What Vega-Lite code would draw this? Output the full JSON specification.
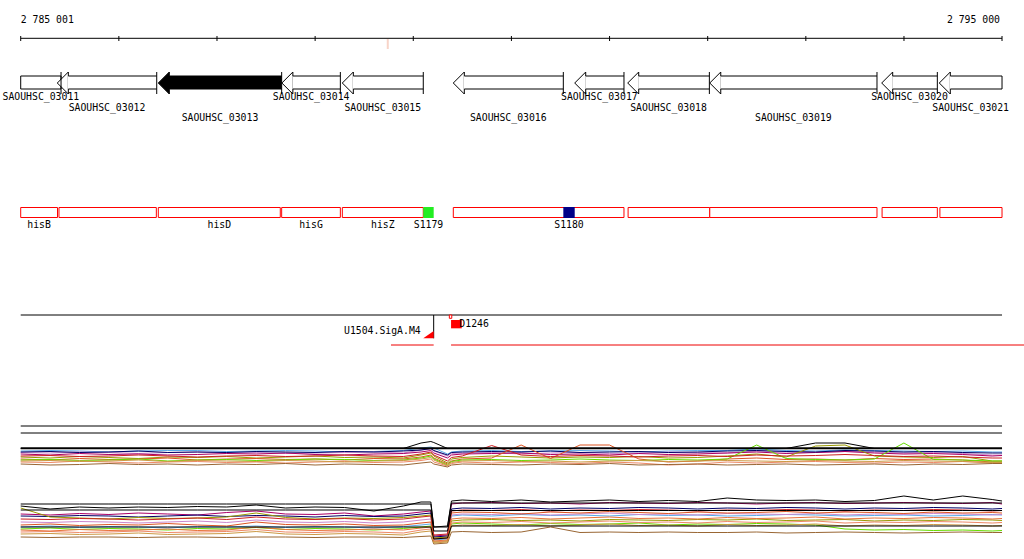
{
"$schema":"https://vega.github.io/schema/vega-lite/v6.json",
"padding":0,"spacing":0,"background":"white",
"config":{"view":{"stroke":null},"axis":{"disable":true},"legend":{"disable":true},"text":{"font":"DejaVu Sans Mono","fontSize":9.8,"color":"black"}},
"resolve":{"scale":{"x":"independent","y":"independent"}},
"datasets":{
"ticks":[{"pos":2785001},{"pos":2786001},{"pos":2787001},{"pos":2788001},{"pos":2789001},{"pos":2790001},{"pos":2791001},{"pos":2792001},{"pos":2793001},{"pos":2794001},{"pos":2795000}],
"genes":[
{"name":"SAOUHSC_03011","start":2785001,"end":2785412,"lane":1,"partial":"left"},
{"name":"SAOUHSC_03012","start":2785374,"end":2786387,"lane":2,"partial":"none"},
{"name":"SAOUHSC_03013","start":2786403,"end":2787660,"lane":3,"partial":"none"},
{"name":"SAOUHSC_03014","start":2787662,"end":2788258,"lane":1,"partial":"none"},
{"name":"SAOUHSC_03015","start":2788278,"end":2789103,"lane":2,"partial":"none"},
{"name":"SAOUHSC_03016","start":2789409,"end":2790530,"lane":3,"partial":"none"},
{"name":"SAOUHSC_03017","start":2790646,"end":2791148,"lane":1,"partial":"none"},
{"name":"SAOUHSC_03018","start":2791186,"end":2792018,"lane":2,"partial":"none"},
{"name":"SAOUHSC_03019","start":2792022,"end":2793726,"lane":3,"partial":"none"},
{"name":"SAOUHSC_03020","start":2793774,"end":2794341,"lane":1,"partial":"none"},
{"name":"SAOUHSC_03021","start":2794361,"end":2795000,"lane":2,"partial":"right"}],
"features":[
{"name":"hisB","start":2785001,"end":2785376,"kind":"gene"},
{"name":"","start":2785391,"end":2786383,"kind":"gene"},
{"name":"hisD","start":2786403,"end":2787646,"kind":"gene"},
{"name":"hisG","start":2787660,"end":2788258,"kind":"gene"},
{"name":"hisZ","start":2788278,"end":2789103,"kind":"gene"},
{"name":"S1179","start":2789103,"end":2789209,"kind":"sRNA+"},
{"name":"","start":2789409,"end":2791148,"kind":"gene"},
{"name":"S1180","start":2790530,"end":2790646,"kind":"sRNA-"},
{"name":"","start":2791190,"end":2792022,"kind":"gene"},
{"name":"","start":2792022,"end":2793726,"kind":"gene"},
{"name":"","start":2793778,"end":2794341,"kind":"gene"},
{"name":"","start":2794367,"end":2795000,"kind":"gene"}],
"promoters":[{"name":"U1504.SigA.M4","pos":2789209,"strand":"-"},{"name":"D1246","pos":2789386,"strand":"+"}],
"transcripts":[{"start":2788774,"end":2789209},{"start":2789386,"end":2795224}],
"expr1":[
{"p":2785001,"A":5.8,"B":5.5,"C":5.2,"D":5.6,"E":4.6,"F":4.2,"G":4.0,"H":3.6,"I":3.2,"J":4.8,"K":3.8,"BK":6.3},
{"p":2785300,"A":5.9,"B":5.4,"C":5.0,"D":5.7,"E":4.4,"F":4.0,"G":4.1,"H":3.5,"I":3.0,"J":4.9,"K":3.9,"BK":6.3},
{"p":2785600,"A":5.8,"B":5.6,"C":5.3,"D":5.5,"E":4.7,"F":4.3,"G":3.9,"H":3.8,"I":3.1,"J":4.7,"K":3.7,"BK":6.3},
{"p":2785900,"A":5.6,"B":5.5,"C":5.1,"D":5.6,"E":4.5,"F":4.1,"G":4.0,"H":3.6,"I":3.3,"J":4.8,"K":3.8,"BK":6.3},
{"p":2786200,"A":5.8,"B":5.3,"C":5.2,"D":5.8,"E":4.3,"F":4.2,"G":4.2,"H":3.4,"I":3.1,"J":5.0,"K":4.0,"BK":6.3},
{"p":2786500,"A":5.9,"B":5.5,"C":5.0,"D":5.5,"E":4.6,"F":4.4,"G":3.8,"H":3.6,"I":3.2,"J":4.8,"K":3.7,"BK":6.3},
{"p":2786800,"A":5.9,"B":5.6,"C":5.1,"D":5.6,"E":4.5,"F":4.0,"G":4.0,"H":3.7,"I":3.0,"J":4.6,"K":3.9,"BK":6.3},
{"p":2787100,"A":5.7,"B":5.4,"C":5.3,"D":5.5,"E":4.7,"F":4.2,"G":4.1,"H":3.5,"I":3.2,"J":4.8,"K":3.8,"BK":6.3},
{"p":2787400,"A":5.8,"B":5.5,"C":5.2,"D":5.7,"E":4.4,"F":4.3,"G":3.9,"H":3.6,"I":3.1,"J":4.9,"K":3.7,"BK":6.3},
{"p":2787700,"A":5.9,"B":5.3,"C":5.4,"D":5.6,"E":4.6,"F":4.1,"G":4.0,"H":3.4,"I":3.3,"J":4.7,"K":3.9,"BK":6.3},
{"p":2788000,"A":5.8,"B":5.4,"C":5.1,"D":5.5,"E":4.8,"F":4.2,"G":4.2,"H":3.6,"I":3.0,"J":4.8,"K":3.8,"BK":6.3},
{"p":2788300,"A":5.6,"B":5.5,"C":5.0,"D":5.7,"E":4.5,"F":4.0,"G":4.1,"H":3.7,"I":3.2,"J":5.0,"K":3.6,"BK":6.3},
{"p":2788600,"A":5.7,"B":5.6,"C":5.2,"D":5.6,"E":4.6,"F":4.3,"G":3.9,"H":3.5,"I":3.1,"J":4.8,"K":3.8,"BK":6.3},
{"p":2788900,"A":5.9,"B":5.4,"C":5.3,"D":5.8,"E":4.4,"F":4.2,"G":4.0,"H":3.6,"I":3.0,"J":4.7,"K":3.9,"BK":6.3},
{"p":2789080,"A":6.4,"B":6.0,"C":5.6,"D":6.0,"E":5.0,"F":4.6,"G":4.4,"H":3.9,"I":3.4,"J":5.2,"K":4.2,"BK":7.4},
{"p":2789180,"A":6.6,"B":6.2,"C":5.9,"D":6.3,"E":5.4,"F":5.0,"G":4.8,"H":4.2,"I":3.6,"J":5.6,"K":4.5,"BK":7.7},
{"p":2789210,"A":6.4,"B":5.8,"C":5.4,"D":5.9,"E":4.8,"F":4.4,"G":4.2,"H":3.6,"I":3.2,"J":5.0,"K":4.0,"BK":7.5},
{"p":2789350,"A":5.2,"B":4.8,"C":4.4,"D":5.0,"E":3.4,"F":3.2,"G":3.0,"H":2.8,"I":2.6,"J":3.8,"K":2.9,"BK":6.3},
{"p":2789390,"A":5.6,"B":5.3,"C":5.0,"D":5.5,"E":4.2,"F":3.8,"G":3.7,"H":3.3,"I":3.0,"J":4.5,"K":3.5,"BK":6.3},
{"p":2789500,"A":5.8,"B":5.4,"C":5.2,"D":5.6,"E":4.5,"F":4.2,"G":4.0,"H":3.6,"I":3.2,"J":4.8,"K":3.8,"BK":6.3},
{"p":2789800,"A":5.9,"B":5.5,"C":5.3,"D":5.7,"E":4.8,"F":4.4,"G":4.1,"H":3.4,"I":3.1,"J":6.9,"K":3.9,"BK":6.3},
{"p":2790100,"A":5.7,"B":5.2,"C":5.4,"D":5.6,"E":4.6,"F":7.0,"G":3.9,"H":3.6,"I":3.0,"J":5.0,"K":3.7,"BK":6.3},
{"p":2790400,"A":5.8,"B":5.4,"C":5.1,"D":5.8,"E":4.4,"F":4.3,"G":4.0,"H":3.5,"I":3.2,"J":4.7,"K":3.8,"BK":6.3},
{"p":2790700,"A":5.9,"B":5.5,"C":5.2,"D":5.5,"E":4.6,"F":7.0,"G":4.2,"H":3.3,"I":3.1,"J":4.9,"K":3.6,"BK":6.3},
{"p":2791000,"A":5.8,"B":5.3,"C":5.0,"D":5.6,"E":4.5,"F":7.0,"G":4.0,"H":3.6,"I":3.3,"J":4.8,"K":3.8,"BK":6.3},
{"p":2791300,"A":5.6,"B":5.4,"C":5.3,"D":5.7,"E":4.7,"F":4.2,"G":3.9,"H":3.4,"I":3.0,"J":4.6,"K":3.9,"BK":6.3},
{"p":2791600,"A":5.8,"B":5.6,"C":5.1,"D":5.5,"E":4.4,"F":3.6,"G":4.1,"H":3.0,"I":3.1,"J":4.8,"K":3.7,"BK":6.3},
{"p":2791900,"A":5.9,"B":5.5,"C":5.2,"D":5.6,"E":4.5,"F":3.8,"G":4.0,"H":3.2,"I":3.2,"J":4.9,"K":3.8,"BK":6.3},
{"p":2792200,"A":5.9,"B":5.4,"C":5.4,"D":5.8,"E":4.8,"F":4.2,"G":4.2,"H":3.6,"I":3.0,"J":4.7,"K":3.9,"BK":6.3},
{"p":2792500,"A":6.2,"B":5.8,"C":5.6,"D":5.9,"E":5.2,"F":4.4,"G":7.0,"H":3.4,"I":3.1,"J":5.0,"K":3.8,"BK":6.3},
{"p":2792800,"A":5.9,"B":5.6,"C":5.3,"D":5.7,"E":4.6,"F":4.1,"G":4.3,"H":3.6,"I":3.2,"J":4.8,"K":3.7,"BK":6.3},
{"p":2793100,"A":5.8,"B":5.5,"C":5.5,"D":5.6,"E":6.8,"F":4.2,"G":4.1,"H":3.7,"I":3.0,"J":4.9,"K":3.9,"BK":7.4},
{"p":2793400,"A":6.0,"B":5.7,"C":5.7,"D":5.9,"E":7.0,"F":4.0,"G":4.0,"H":3.5,"I":3.1,"J":5.1,"K":3.8,"BK":7.4},
{"p":2793700,"A":5.9,"B":5.6,"C":5.4,"D":5.8,"E":4.8,"F":4.3,"G":4.2,"H":3.4,"I":3.2,"J":4.9,"K":3.7,"BK":6.3},
{"p":2794000,"A":5.8,"B":5.4,"C":5.2,"D":5.6,"E":4.6,"F":4.1,"G":7.4,"H":3.6,"I":3.0,"J":4.7,"K":3.9,"BK":6.3},
{"p":2794300,"A":5.7,"B":5.5,"C":5.3,"D":5.7,"E":4.5,"F":4.2,"G":4.1,"H":3.5,"I":3.2,"J":4.8,"K":3.8,"BK":6.3},
{"p":2794600,"A":5.8,"B":5.3,"C":5.1,"D":5.5,"E":4.7,"F":4.0,"G":4.0,"H":3.7,"I":3.1,"J":4.6,"K":3.7,"BK":6.3},
{"p":2794900,"A":5.6,"B":5.0,"C":4.8,"D":5.4,"E":3.8,"F":3.6,"G":3.8,"H":3.4,"I":3.3,"J":4.4,"K":3.5,"BK":6.3},
{"p":2795000,"A":5.6,"B":5.0,"C":4.9,"D":5.4,"E":3.8,"F":3.6,"G":3.8,"H":3.4,"I":3.3,"J":4.4,"K":3.5,"BK":6.3}],
"expr2":[
{"p":2785001,"A":6.4,"B":7.4,"C":9.0,"D":8.6,"E":10.2,"F":6.8,"G":6.0,"H":5.4,"I":4.4,"J":8.0,"K":5.0,"L":5.8,"M1":11.0,"M2":9.8,"M3":6.4,"BK":10.6},
{"p":2785300,"A":6.6,"B":7.3,"C":8.8,"D":8.5,"E":8.4,"F":7.0,"G":6.2,"H":5.5,"I":4.3,"J":7.9,"K":5.1,"L":5.6,"M1":11.0,"M2":9.8,"M3":6.4,"BK":10.0},
{"p":2785600,"A":6.3,"B":7.5,"C":9.1,"D":8.7,"E":8.2,"F":6.7,"G":5.9,"H":5.3,"I":4.4,"J":8.1,"K":4.9,"L":5.9,"M1":11.0,"M2":9.8,"M3":6.4,"BK":10.4},
{"p":2785900,"A":6.5,"B":7.4,"C":8.9,"D":8.6,"E":8.0,"F":6.9,"G":6.1,"H":5.4,"I":4.4,"J":8.0,"K":5.0,"L":5.7,"M1":11.0,"M2":9.8,"M3":6.4,"BK":10.2},
{"p":2786200,"A":6.4,"B":7.2,"C":9.2,"D":8.4,"E":8.3,"F":6.8,"G":6.0,"H":5.6,"I":4.3,"J":7.8,"K":5.2,"L":5.8,"M1":11.0,"M2":9.8,"M3":6.4,"BK":10.4},
{"p":2786500,"A":6.2,"B":7.4,"C":9.0,"D":8.6,"E":8.1,"F":7.1,"G":5.8,"H":5.3,"I":4.4,"J":8.0,"K":4.9,"L":6.0,"M1":11.0,"M2":9.8,"M3":6.4,"BK":10.3},
{"p":2786800,"A":6.5,"B":7.6,"C":8.8,"D":8.8,"E":8.2,"F":6.8,"G":6.1,"H":5.4,"I":4.4,"J":8.2,"K":5.0,"L":5.7,"M1":11.0,"M2":9.8,"M3":6.4,"BK":10.5},
{"p":2787100,"A":6.4,"B":7.3,"C":9.3,"D":8.5,"E":8.4,"F":6.6,"G":6.0,"H":5.5,"I":4.3,"J":7.9,"K":5.1,"L":5.8,"M1":11.0,"M2":9.8,"M3":6.4,"BK":10.4},
{"p":2787400,"A":6.6,"B":7.8,"C":9.6,"D":8.7,"E":9.2,"F":7.4,"G":6.3,"H":5.9,"I":4.4,"J":8.4,"K":5.5,"L":6.4,"M1":11.0,"M2":9.8,"M3":6.4,"BK":10.8},
{"p":2787700,"A":6.3,"B":7.4,"C":9.0,"D":8.6,"E":8.3,"F":6.9,"G":5.9,"H":5.4,"I":4.4,"J":8.0,"K":5.0,"L":5.9,"M1":11.0,"M2":9.8,"M3":6.4,"BK":10.2},
{"p":2788000,"A":6.5,"B":7.3,"C":8.9,"D":8.4,"E":8.0,"F":6.8,"G":6.1,"H":5.3,"I":4.3,"J":7.9,"K":4.9,"L":5.7,"M1":11.0,"M2":9.8,"M3":6.4,"BK":10.4},
{"p":2788300,"A":6.4,"B":7.5,"C":9.2,"D":8.7,"E":8.2,"F":7.0,"G":6.0,"H":5.5,"I":4.4,"J":8.1,"K":5.1,"L":5.8,"M1":11.0,"M2":9.8,"M3":6.4,"BK":10.3},
{"p":2788600,"A":6.2,"B":7.2,"C":8.6,"D":8.5,"E":8.1,"F":6.7,"G":5.8,"H":5.4,"I":4.4,"J":7.8,"K":5.0,"L":6.0,"M1":11.0,"M2":9.8,"M3":6.4,"BK":9.6},
{"p":2788900,"A":6.5,"B":7.4,"C":9.0,"D":8.6,"E":8.3,"F":6.8,"G":6.1,"H":5.2,"I":4.3,"J":8.0,"K":4.8,"L":5.8,"M1":11.0,"M2":9.8,"M3":6.4,"BK":10.6},
{"p":2789080,"A":6.8,"B":7.8,"C":9.4,"D":9.0,"E":8.6,"F":7.2,"G":6.4,"H":5.8,"I":4.5,"J":8.4,"K":5.4,"L":6.2,"M1":11.0,"M2":9.8,"M3":6.4,"BK":11.4},
{"p":2789180,"A":7.0,"B":8.0,"C":9.6,"D":9.2,"E":8.8,"F":7.4,"G":6.6,"H":6.0,"I":4.6,"J":8.6,"K":5.6,"L":6.4,"M1":11.0,"M2":9.8,"M3":6.4,"BK":11.4},
{"p":2789210,"A":3.8,"B":4.2,"C":4.6,"D":4.4,"E":4.2,"F":4.0,"G":3.4,"H":3.4,"I":3.0,"J":4.8,"K":3.2,"L":3.6,"M1":6.4,"M2":5.6,"M3":4.0,"BK":6.4},
{"p":2789350,"A":4.0,"B":4.4,"C":4.8,"D":4.6,"E":4.4,"F":4.2,"G":3.6,"H":3.6,"I":3.2,"J":5.0,"K":3.4,"L":3.8,"M1":6.4,"M2":5.6,"M3":4.2,"BK":6.6},
{"p":2789390,"A":8.6,"B":8.8,"C":11.0,"D":10.0,"E":7.6,"F":9.2,"G":7.0,"H":7.2,"I":5.4,"J":9.6,"K":6.6,"L":8.0,"M1":11.2,"M2":9.7,"M3":6.6,"BK":11.6},
{"p":2789500,"A":8.8,"B":9.0,"C":11.2,"D":10.2,"E":7.8,"F":9.4,"G":7.2,"H":7.4,"I":5.5,"J":9.8,"K":6.8,"L":8.2,"M1":11.2,"M2":9.7,"M3":6.6,"BK":11.8},
{"p":2789800,"A":8.6,"B":8.9,"C":11.3,"D":10.1,"E":7.9,"F":9.3,"G":7.0,"H":7.3,"I":5.3,"J":9.7,"K":6.7,"L":8.1,"M1":11.2,"M2":9.7,"M3":6.6,"BK":11.5},
{"p":2790100,"A":8.9,"B":9.1,"C":11.1,"D":10.3,"E":7.7,"F":9.0,"G":6.8,"H":7.5,"I":5.4,"J":9.9,"K":6.9,"L":8.3,"M1":11.2,"M2":9.7,"M3":6.6,"BK":11.8},
{"p":2790400,"A":8.7,"B":8.8,"C":11.2,"D":10.0,"E":7.8,"F":9.4,"G":7.1,"H":7.2,"I":6.4,"J":9.6,"K":6.6,"L":8.0,"M1":11.2,"M2":9.7,"M3":6.6,"BK":11.4},
{"p":2790700,"A":8.8,"B":9.0,"C":11.0,"D":10.2,"E":7.6,"F":9.2,"G":6.9,"H":7.4,"I":5.3,"J":9.8,"K":6.8,"L":8.2,"M1":11.2,"M2":9.7,"M3":6.6,"BK":11.6},
{"p":2791000,"A":8.6,"B":9.2,"C":11.3,"D":10.1,"E":7.9,"F":9.5,"G":7.0,"H":7.6,"I":5.4,"J":9.7,"K":7.0,"L":8.4,"M1":11.2,"M2":9.7,"M3":6.6,"BK":11.8},
{"p":2791300,"A":8.9,"B":8.9,"C":11.2,"D":10.3,"E":7.8,"F":9.3,"G":7.2,"H":7.3,"I":5.3,"J":9.9,"K":6.7,"L":8.1,"M1":11.2,"M2":9.7,"M3":6.6,"BK":11.5},
{"p":2791600,"A":8.7,"B":9.0,"C":11.1,"D":10.2,"E":7.7,"F":9.1,"G":6.8,"H":7.4,"I":5.4,"J":9.8,"K":6.8,"L":8.2,"M1":11.2,"M2":9.7,"M3":6.6,"BK":11.7},
{"p":2791900,"A":8.8,"B":8.8,"C":11.3,"D":10.0,"E":7.9,"F":9.4,"G":7.0,"H":7.2,"I":5.3,"J":9.6,"K":6.6,"L":8.0,"M1":11.2,"M2":9.7,"M3":6.6,"BK":11.5},
{"p":2792200,"A":8.6,"B":9.1,"C":11.2,"D":10.2,"E":7.8,"F":9.2,"G":6.9,"H":7.5,"I":5.3,"J":9.8,"K":6.9,"L":8.3,"M1":11.2,"M2":9.7,"M3":6.6,"BK":12.2},
{"p":2792500,"A":8.7,"B":9.0,"C":11.0,"D":10.1,"E":8.0,"F":9.3,"G":7.1,"H":7.3,"I":5.4,"J":9.7,"K":6.7,"L":8.1,"M1":11.2,"M2":9.7,"M3":6.6,"BK":11.8},
{"p":2792800,"A":8.9,"B":8.9,"C":11.2,"D":10.3,"E":7.7,"F":9.5,"G":7.0,"H":7.4,"I":5.2,"J":9.9,"K":6.8,"L":8.2,"M1":11.2,"M2":9.7,"M3":6.6,"BK":11.7},
{"p":2793100,"A":8.8,"B":9.1,"C":11.3,"D":10.2,"E":7.8,"F":9.2,"G":6.8,"H":7.6,"I":5.3,"J":9.8,"K":7.0,"L":8.4,"M1":11.2,"M2":9.7,"M3":6.6,"BK":11.8},
{"p":2793400,"A":8.6,"B":8.8,"C":11.1,"D":10.0,"E":7.9,"F":9.4,"G":6.0,"H":7.2,"I":5.4,"J":9.6,"K":6.6,"L":8.0,"M1":11.2,"M2":9.7,"M3":6.6,"BK":11.5},
{"p":2793700,"A":8.7,"B":9.0,"C":11.2,"D":10.2,"E":7.6,"F":9.3,"G":5.8,"H":7.4,"I":5.3,"J":9.8,"K":6.8,"L":8.2,"M1":11.2,"M2":9.7,"M3":6.6,"BK":11.7},
{"p":2794000,"A":8.8,"B":8.9,"C":11.3,"D":10.1,"E":7.8,"F":9.1,"G":5.9,"H":7.3,"I":5.2,"J":9.7,"K":6.7,"L":8.1,"M1":11.2,"M2":9.7,"M3":6.6,"BK":12.6},
{"p":2794300,"A":8.6,"B":9.1,"C":11.2,"D":10.3,"E":7.7,"F":9.4,"G":5.7,"H":7.5,"I":5.3,"J":9.9,"K":6.9,"L":8.3,"M1":11.2,"M2":9.7,"M3":6.6,"BK":11.8},
{"p":2794600,"A":8.7,"B":9.0,"C":11.1,"D":10.2,"E":7.9,"F":9.2,"G":5.8,"H":7.4,"I":5.4,"J":9.8,"K":6.8,"L":8.2,"M1":11.2,"M2":9.7,"M3":6.6,"BK":12.6},
{"p":2794900,"A":8.9,"B":8.8,"C":11.3,"D":10.0,"E":7.8,"F":9.3,"G":5.6,"H":7.2,"I":5.3,"J":9.6,"K":6.6,"L":8.0,"M1":11.2,"M2":9.7,"M3":6.6,"BK":11.9},
{"p":2795000,"A":8.8,"B":8.9,"C":11.0,"D":10.1,"E":7.7,"F":9.2,"G":5.7,"H":7.3,"I":5.3,"J":9.7,"K":6.7,"L":8.1,"M1":11.2,"M2":9.7,"M3":6.6,"BK":11.6}]
},
"vconcat":[
{"width":1024,"height":60,
 "layer":[
  {"data":{"values":[{"start":2785001,"end":2795000}]},
   "mark":{"type":"rule","color":"black","strokeWidth":1},
   "encoding":{"x":{"field":"start","type":"quantitative","scale":{"domain":[2784790,2795224],"nice":false,"zero":false}},"x2":{"field":"end"},"y":{"datum":38.3,"type":"quantitative","scale":{"domain":[0,60],"reverse":true}}}},
  {"data":{"name":"ticks"},
   "mark":{"type":"rule","color":"black","strokeWidth":1},
   "encoding":{"x":{"field":"pos","type":"quantitative","scale":{"domain":[2784790,2795224],"nice":false,"zero":false}},"y":{"datum":36,"type":"quantitative","scale":{"domain":[0,60],"reverse":true}},"y2":{"datum":41}}},
  {"data":{"values":[{"pos":2788741}]},
   "mark":{"type":"rule","color":"#f8d4c8","strokeWidth":2},
   "encoding":{"x":{"field":"pos","type":"quantitative","scale":{"domain":[2784790,2795224],"nice":false,"zero":false}},"y":{"datum":39,"type":"quantitative","scale":{"domain":[0,60],"reverse":true}},"y2":{"datum":49}}},
  {"data":{"values":[{"pos":2785001,"label":"2 785 001"}]},
   "mark":{"type":"text","align":"left","baseline":"middle","font":"DejaVu Sans Mono","fontSize":9.8},
   "encoding":{"x":{"field":"pos","type":"quantitative","scale":{"domain":[2784790,2795224],"nice":false,"zero":false}},"y":{"datum":20,"type":"quantitative","scale":{"domain":[0,60],"reverse":true}},"text":{"field":"label"}}},
  {"data":{"values":[{"pos":2795000,"label":"2 795 000"}]},
   "mark":{"type":"text","align":"right","baseline":"middle","dx":-2,"font":"DejaVu Sans Mono","fontSize":9.8},
   "encoding":{"x":{"field":"pos","type":"quantitative","scale":{"domain":[2784790,2795224],"nice":false,"zero":false}},"y":{"datum":20,"type":"quantitative","scale":{"domain":[0,60],"reverse":true}},"text":{"field":"label"}}}
 ]},
{"width":1024,"height":80,
 "data":{"name":"genes"},
 "resolve":{"scale":{"y":"independent"}},
 "layer":[
  {"transform":[{"filter":"datum.partial === 'left'"}],
   "mark":{"type":"rect","fill":"white","stroke":"black","strokeWidth":1},
   "encoding":{"x":{"field":"start","type":"quantitative","scale":{"domain":[2784790,2795224],"nice":false,"zero":false}},"x2":{"field":"end"},"y":{"datum":16,"type":"quantitative","scale":{"domain":[0,80],"reverse":true}},"y2":{"datum":29}}},
  {"transform":[{"filter":"datum.partial !== 'left'"}],
   "mark":{"type":"point","shape":"M-0.5,0L0.5,-1L0.5,1Z","filled":true,"size":484,"stroke":"black","strokeWidth":1,"opacity":1,"xOffset":5.5},
   "encoding":{"x":{"field":"start","type":"quantitative","scale":{"domain":[2784790,2795224],"nice":false,"zero":false}},"y":{"datum":23,"type":"quantitative","scale":{"domain":[0,80],"reverse":true}},
     "fill":{"condition":{"test":"datum.name === 'SAOUHSC_03013'","value":"black"},"value":"white"}}},
  {"transform":[{"filter":"datum.partial !== 'left'"}],
   "mark":{"type":"rect","strokeWidth":0,"xOffset":10.5},
   "encoding":{"x":{"field":"start","type":"quantitative","scale":{"domain":[2784790,2795224],"nice":false,"zero":false}},"x2":{"field":"end"},"y":{"datum":16,"type":"quantitative","scale":{"domain":[0,80],"reverse":true}},"y2":{"datum":29},
     "fill":{"condition":{"test":"datum.name === 'SAOUHSC_03013'","value":"black"},"value":"white"}}},
  {"transform":[{"filter":"datum.partial !== 'left'"}],
   "mark":{"type":"rule","color":"black","strokeWidth":1,"xOffset":11},
   "encoding":{"x":{"field":"start","type":"quantitative","scale":{"domain":[2784790,2795224],"nice":false,"zero":false}},"x2":{"field":"end"},"y":{"datum":16,"type":"quantitative","scale":{"domain":[0,80],"reverse":true}}}},
  {"transform":[{"filter":"datum.partial !== 'left'"}],
   "mark":{"type":"rule","color":"black","strokeWidth":1,"xOffset":11},
   "encoding":{"x":{"field":"start","type":"quantitative","scale":{"domain":[2784790,2795224],"nice":false,"zero":false}},"x2":{"field":"end"},"y":{"datum":29,"type":"quantitative","scale":{"domain":[0,80],"reverse":true}}}},
  {"transform":[{"filter":"datum.partial !== 'right'"}],
   "mark":{"type":"rule","color":"black","strokeWidth":1},
   "encoding":{"x":{"field":"end","type":"quantitative","scale":{"domain":[2784790,2795224],"nice":false,"zero":false}},"y":{"datum":12,"type":"quantitative","scale":{"domain":[0,80],"reverse":true}},"y2":{"datum":34}}},
  {"transform":[{"filter":"datum.partial === 'right'"}],
   "mark":{"type":"rule","color":"black","strokeWidth":1},
   "encoding":{"x":{"field":"end","type":"quantitative","scale":{"domain":[2784790,2795224],"nice":false,"zero":false}},"y":{"datum":16,"type":"quantitative","scale":{"domain":[0,80],"reverse":true}},"y2":{"datum":29}}},
  {"transform":[{"calculate":"(datum.start + datum.end) / 2","as":"mid"}],
   "mark":{"type":"text","align":"center","baseline":"middle","font":"DejaVu Sans Mono","fontSize":9.8},
   "encoding":{"x":{"field":"mid","type":"quantitative","scale":{"domain":[2784790,2795224],"nice":false,"zero":false}},"y":{"field":"lane","type":"quantitative","scale":{"domain":[1,3],"range":[37,58]}},"text":{"field":"name"}}}
 ]},
{"width":1024,"height":100,
 "data":{"name":"features"},
 "layer":[
  {"transform":[{"filter":"datum.kind === 'gene'"}],
   "mark":{"type":"rect","fill":"white","stroke":"#ff0000","strokeWidth":1},
   "encoding":{"x":{"field":"start","type":"quantitative","scale":{"domain":[2784790,2795224],"nice":false,"zero":false}},"x2":{"field":"end"},"y":{"datum":67.5,"type":"quantitative","scale":{"domain":[0,100],"reverse":true}},"y2":{"datum":77.5}}},
  {"transform":[{"filter":"datum.kind !== 'gene'"}],
   "mark":{"type":"rect","strokeWidth":0},
   "encoding":{"x":{"field":"start","type":"quantitative","scale":{"domain":[2784790,2795224],"nice":false,"zero":false}},"x2":{"field":"end"},"y":{"datum":67,"type":"quantitative","scale":{"domain":[0,100],"reverse":true}},"y2":{"datum":78},
     "fill":{"field":"kind","type":"nominal","scale":{"domain":["sRNA+","sRNA-"],"range":["#22ee22","#000088"]},"legend":null}}},
  {"transform":[{"filter":"datum.name !== ''"},{"calculate":"(datum.start + datum.end) / 2","as":"mid"}],
   "mark":{"type":"text","align":"center","baseline":"middle","font":"DejaVu Sans Mono","fontSize":9.8},
   "encoding":{"x":{"field":"mid","type":"quantitative","scale":{"domain":[2784790,2795224],"nice":false,"zero":false}},"y":{"datum":85,"type":"quantitative","scale":{"domain":[0,100],"reverse":true}},"text":{"field":"name"}}}
 ]},
{"width":1024,"height":160,
 "layer":[
  {"data":{"values":[{"start":2785001,"end":2795000}]},
   "mark":{"type":"rule","color":"black","strokeWidth":1},
   "encoding":{"x":{"field":"start","type":"quantitative","scale":{"domain":[2784790,2795224],"nice":false,"zero":false}},"x2":{"field":"end"},"y":{"datum":75,"type":"quantitative","scale":{"domain":[0,160],"reverse":true}}}},
  {"data":{"name":"transcripts"},
   "mark":{"type":"rule","color":"#ee0000","strokeWidth":1,"clip":true},
   "encoding":{"x":{"field":"start","type":"quantitative","scale":{"domain":[2784790,2795224],"nice":false,"zero":false}},"x2":{"field":"end"},"y":{"datum":105,"type":"quantitative","scale":{"domain":[0,160],"reverse":true}}}},
  {"data":{"name":"promoters"},"transform":[{"filter":"datum.strand === '-'"}],
   "mark":{"type":"rule","color":"black","strokeWidth":1},
   "encoding":{"x":{"field":"pos","type":"quantitative","scale":{"domain":[2784790,2795224],"nice":false,"zero":false}},"y":{"datum":75,"type":"quantitative","scale":{"domain":[0,160],"reverse":true}},"y2":{"datum":98.3}}},
  {"data":{"name":"promoters"},"transform":[{"filter":"datum.strand === '-'"}],
   "mark":{"type":"point","shape":"M-1,0.7L1,-0.7L1,0.7Z","filled":true,"fill":"#ff0000","strokeWidth":0,"opacity":1,"size":108,"xOffset":-5.2},
   "encoding":{"x":{"field":"pos","type":"quantitative","scale":{"domain":[2784790,2795224],"nice":false,"zero":false}},"y":{"datum":94.65,"type":"quantitative","scale":{"domain":[0,160],"reverse":true}}}},
  {"data":{"name":"promoters"},"transform":[{"filter":"datum.strand === '-'"}],
   "mark":{"type":"text","align":"right","baseline":"middle","dx":-13,"font":"DejaVu Sans Mono","fontSize":9.8},
   "encoding":{"x":{"field":"pos","type":"quantitative","scale":{"domain":[2784790,2795224],"nice":false,"zero":false}},"y":{"datum":91,"type":"quantitative","scale":{"domain":[0,160],"reverse":true}},"text":{"field":"name"}}},
  {"data":{"name":"promoters"},"transform":[{"filter":"datum.strand === '+'"}],
   "mark":{"type":"point","shape":"M-0.73,-1L0.73,-1L0.73,1L-0.73,1Z","filled":true,"fill":"white","stroke":"#ff0000","strokeWidth":1,"opacity":1,"size":11,"xOffset":-0.5},
   "encoding":{"x":{"field":"pos","type":"quantitative","scale":{"domain":[2784790,2795224],"nice":false,"zero":false}},"y":{"datum":76.65,"type":"quantitative","scale":{"domain":[0,160],"reverse":true}}}},
  {"data":{"name":"promoters"},"transform":[{"filter":"datum.strand === '+'"}],
   "mark":{"type":"point","shape":"M-1,-0.78L1,-0.78L1,0.78L-1,0.78Z","filled":true,"fill":"#ff0000","strokeWidth":0,"opacity":1,"size":114.5,"xOffset":5.35},
   "encoding":{"x":{"field":"pos","type":"quantitative","scale":{"domain":[2784790,2795224],"nice":false,"zero":false}},"y":{"datum":84.15,"type":"quantitative","scale":{"domain":[0,160],"reverse":true}}}},
  {"data":{"name":"promoters"},"transform":[{"filter":"datum.strand === '+'"}],
   "mark":{"type":"text","align":"left","baseline":"middle","dx":8.3,"font":"DejaVu Sans Mono","fontSize":9.8},
   "encoding":{"x":{"field":"pos","type":"quantitative","scale":{"domain":[2784790,2795224],"nice":false,"zero":false}},"y":{"datum":84,"type":"quantitative","scale":{"domain":[0,160],"reverse":true}},"text":{"field":"name"}}}
 ]},
{"width":1024,"height":80,
 "layer":[
  {"data":{"values":[{"lvl":10.8},{"lvl":9.4}]},
   "mark":{"type":"rule","color":"black","strokeWidth":1},
   "encoding":{"x":{"datum":2785001,"type":"quantitative","scale":{"domain":[2784790,2795224],"nice":false,"zero":false}},"x2":{"datum":2795000},"y":{"field":"lvl","type":"quantitative","scale":{"domain":[0,16]}}}},
  {"data":{"name":"expr1"},
   "transform":[{"fold":["A","B","C","D","E","F","G","H","I","J","K"],"as":["series","val"]}],
   "mark":{"type":"line","strokeWidth":1,"interpolate":"linear"},
   "encoding":{"x":{"field":"p","type":"quantitative","scale":{"domain":[2784790,2795224],"nice":false,"zero":false}},"y":{"field":"val","type":"quantitative","scale":{"domain":[0,16]}},
     "color":{"field":"series","type":"nominal","scale":{"domain":["A","B","C","D","E","F","G","H","I","J","K","L","M1","M2","M3","BK"],"range":["#5aaae8","#cc88cc","#aa0066","#000066","#999900","#dd5522","#66dd00","#ee8866","#996633","#cc2222","#cc9944","#e8703a","#000000","#000000","#000000","#000000"]},"legend":null}}},
  {"data":{"name":"expr1"},
   "mark":{"type":"line","strokeWidth":1,"color":"black","interpolate":"linear"},
   "encoding":{"x":{"field":"p","type":"quantitative","scale":{"domain":[2784790,2795224],"nice":false,"zero":false}},"y":{"field":"BK","type":"quantitative","scale":{"domain":[0,16]}}}},
  {"data":{"values":[{"lvl":6.34}]},
   "mark":{"type":"rule","color":"black","strokeWidth":2},
   "encoding":{"x":{"datum":2785001,"type":"quantitative","scale":{"domain":[2784790,2795224],"nice":false,"zero":false}},"x2":{"datum":2795000},"y":{"field":"lvl","type":"quantitative","scale":{"domain":[0,16]}}}}
 ]},
{"width":1024,"height":79,
 "layer":[
  {"data":{"name":"expr2"},
   "transform":[{"fold":["A","B","C","D","E","F","G","H","I","J","K","L","M1","M2","M3"],"as":["series","val"]}],
   "mark":{"type":"line","strokeWidth":1,"interpolate":"linear"},
   "encoding":{"x":{"field":"p","type":"quantitative","scale":{"domain":[2784790,2795224],"nice":false,"zero":false}},"y":{"field":"val","type":"quantitative","scale":{"domain":[0,15.8]}},
     "color":{"field":"series","type":"nominal","scale":{"domain":["A","B","C","D","E","F","G","H","I","J","K","L","M1","M2","M3","BK"],"range":["#5aaae8","#cc88cc","#aa0066","#000066","#999900","#dd5522","#66dd00","#ee8866","#996633","#cc2222","#cc9944","#e8703a","#000000","#000000","#000000","#000000"]},"legend":null}}},
  {"data":{"name":"expr2"},
   "mark":{"type":"line","strokeWidth":1,"color":"black","interpolate":"linear"},
   "encoding":{"x":{"field":"p","type":"quantitative","scale":{"domain":[2784790,2795224],"nice":false,"zero":false}},"y":{"field":"BK","type":"quantitative","scale":{"domain":[0,15.8]}}}}
 ]}
]
}
